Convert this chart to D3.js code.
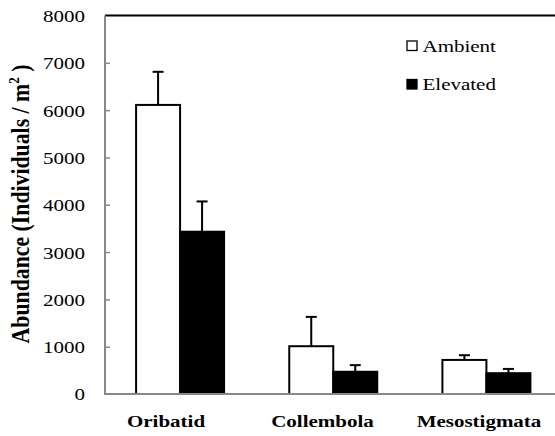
<!DOCTYPE html>
<html>
<head>
<meta charset="utf-8">
<script src="https://cdn.jsdelivr.net/npm/d3@7"></script>
</head>
<body style="margin:0;background:#fff">
<svg id="chart" width="555" height="436"></svg>
<script>
// Microarthropod abundance under ambient vs elevated conditions
const categories = ["Oribatid", "Collembola", "Mesostigmata"];
const seriesNames = ["Ambient", "Elevated"];
const ambientMean = [6110, 1010, 720];
const ambientErr = [700, 620, 100];
const elevatedMean = [3430, 470, 440];
const elevatedErr = [640, 140, 90];
const yTicks = [0, 1000, 2000, 3000, 4000, 5000, 6000, 7000, 8000];

const FONT = "Liberation Serif";
const SX = 1.2; // horizontal glyph stretch used for all text

const svg = d3.select("#chart");
const plotLeft = 105, plotTop = 15.5, plotBottom = 394, plotRight = 563;

const x = d3.scaleBand().domain(categories).range([plotLeft - 1.5, plotRight]);
const y = d3.scaleLinear().domain([0, 8000]).range([plotBottom, plotTop]);
const inner = d3.scaleBand().domain(seriesNames).range([0, 88]);
const labelX = d3.scalePoint().domain(categories).range([166, 479]);
const fills = { Ambient: "#fff", Elevated: "#000" };

const rows = [];
categories.forEach((c, i) => {
  rows.push({ cat: c, s: "Ambient", v: ambientMean[i], e: ambientErr[i] });
  rows.push({ cat: c, s: "Elevated", v: elevatedMean[i], e: elevatedErr[i] });
});
const barX = d => x(d.cat) + x.bandwidth() / 2 - 44 + inner(d.s);

// upper error bars
const eb = svg.append("g").attr("stroke", "#000").attr("stroke-width", 2);
rows.forEach(d => {
  const cx = barX(d) + inner.bandwidth() / 2;
  eb.append("line").attr("x1", cx).attr("x2", cx)
    .attr("y1", y(d.v)).attr("y2", y(d.v + d.e));
  eb.append("line").attr("x1", cx - 5.5).attr("x2", cx + 5.5)
    .attr("y1", y(d.v + d.e)).attr("y2", y(d.v + d.e));
});

// bars
svg.append("g").selectAll("rect").data(rows).join("rect")
  .attr("x", barX)
  .attr("y", d => y(d.v))
  .attr("width", inner.bandwidth())
  .attr("height", d => y(0) - y(d.v))
  .attr("fill", d => fills[d.s])
  .attr("stroke", "#000")
  .attr("stroke-width", 2);

// top frame line
svg.append("line").attr("x1", plotLeft).attr("x2", 555)
  .attr("y1", y(8000)).attr("y2", y(8000))
  .attr("stroke", "#000").attr("stroke-width", 2);

// y axis
const yAxis = d3.axisLeft(y).tickValues(yTicks).tickSize(5).tickFormat(d3.format("d"));
const ya = svg.append("g").attr("transform", `translate(${plotLeft},0)`).call(yAxis)
  .attr("font-family", FONT).attr("font-size", 17.5);
ya.select(".domain").attr("d", `M0,${plotBottom}V${plotTop}`).attr("stroke", "#888").attr("stroke-width", 2);
ya.selectAll(".tick line").attr("x2", 0).attr("x1", 5).attr("stroke", "#888").attr("stroke-width", 1.5)
  .filter(d => d === 0 || d === 8000).remove();
ya.selectAll(".tick text").attr("x", -20 / SX).attr("dy", "0.34em").attr("fill", "#000")
  .attr("transform", `scale(${SX},1)`);

// x baseline
svg.append("line").attr("x1", plotLeft - 1).attr("x2", 555)
  .attr("y1", plotBottom).attr("y2", plotBottom)
  .attr("stroke", "#888").attr("stroke-width", 2);

// category labels
svg.append("g").selectAll("text").data(categories).join("text")
  .attr("transform", d => `translate(${labelX(d)},427) scale(${SX},1)`)
  .attr("text-anchor", "middle")
  .attr("font-family", FONT).attr("font-size", 17.5).attr("font-weight", "bold")
  .text(d => d);

// y axis title
const title = svg.append("text")
  .attr("transform", `translate(29,204) scale(${SX},1) rotate(-90)`)
  .attr("text-anchor", "middle")
  .attr("font-family", FONT).attr("font-size", 21.8).attr("font-weight", "bold");
title.append("tspan").text("Abundance (Individuals / m");
title.append("tspan").attr("dy", -8).attr("font-size", 13).text("2");
title.append("tspan").attr("dy", 8).text(" )");

// legend
const lg = svg.append("g");
seriesNames.forEach((s, i) => {
  const ly = 45.5 + i * 38.5;
  lg.append("rect").attr("x", 407).attr("y", ly - 4.5).attr("width", 10).attr("height", 9.5)
    .attr("fill", fills[s]).attr("stroke", "#000").attr("stroke-width", 1.3);
  lg.append("text").attr("transform", `translate(422.5,${ly + 6}) scale(${SX},1)`)
    .attr("font-family", FONT).attr("font-size", 17.5).attr("fill", "#000").text(s);
});
</script>
</body>
</html>
